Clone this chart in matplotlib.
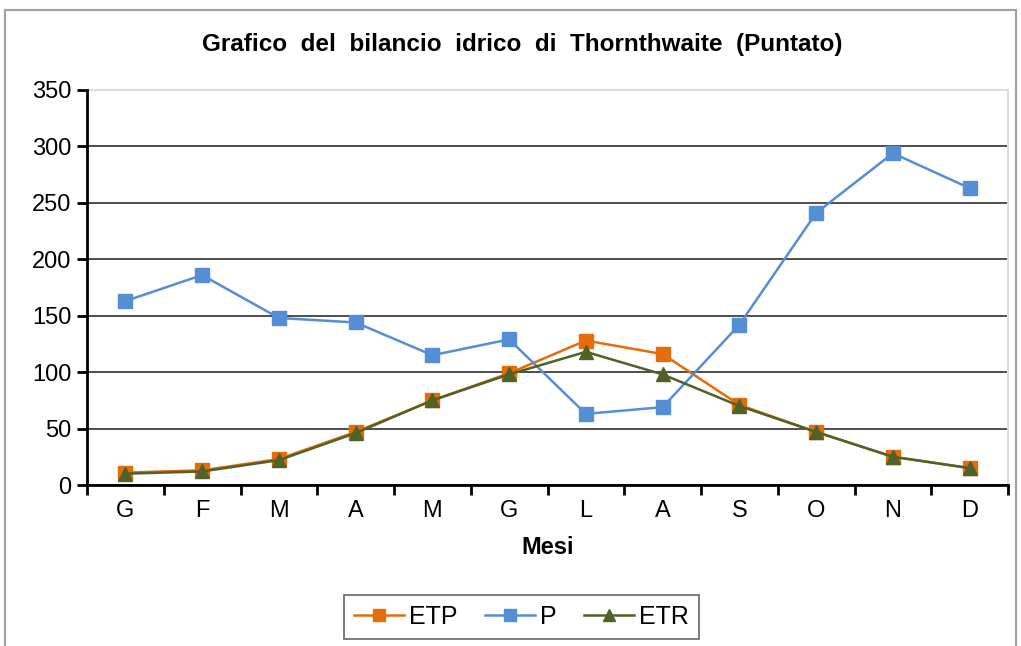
import numpy as np
import matplotlib.pyplot as plt
from matplotlib.patches import Rectangle

mesi = ['G', 'F', 'M', 'A', 'M', 'G', 'L', 'A', 'S', 'O', 'N', 'D']
etp = [11, 13, 23, 47, 75, 99, 128, 116, 71, 47, 25, 15]
p = [163, 186, 148, 144, 115, 129, 63, 69, 142, 241, 294, 263]
etr = [10, 12, 22, 46, 75, 98, 118, 98, 70, 47, 25, 15]

plt.rcParams['font.family'] = ['Liberation Sans', 'DejaVu Sans']

fig = plt.figure(figsize=(10.21, 6.46), dpi=100)
ax = fig.add_axes([87/1021, 161/646, 921/1021, 395/646])

# outer chart border
fig.patches.append(Rectangle((5/1021, -0.01), 1011/1021, 1 - 10/646 + 0.01, transform=fig.transFigure,
                             fill=False, edgecolor='#a0a0a0', linewidth=1.5))

x = np.arange(len(mesi))
ax.plot(x, etp, color='#E46C0A', marker='s', markersize=9.5, linewidth=1.8, label='ETP')
ax.plot(x, p, color='#558ED5', marker='s', markersize=9.5, linewidth=1.8, label='P')
ax.plot(x, etr, color='#4F6228', marker='^', markersize=10, linewidth=1.8, label='ETR')

ax.set_xlim(-0.5, len(mesi) - 0.5)
ax.set_ylim(0, 350)
ax.set_yticks(np.arange(0, 351, 50))
ax.set_xticks(x)
ax.set_xticklabels(mesi)
ax.set_xticks(np.arange(-0.5, len(mesi), 1), minor=True)
ax.tick_params(axis='x', which='major', length=0, labelsize=17, pad=11)
ax.tick_params(axis='x', which='minor', length=7, width=2, direction='out')
ax.tick_params(axis='y', length=7, width=2, labelsize=17, pad=4)

ax.grid(axis='y', color='#404040', linewidth=1.3)
ax.set_axisbelow(True)
# light plot-area border on top/right, like the Excel original
for s in ['top', 'right']:
    ax.spines[s].set_color('#dcdcdc')
    ax.spines[s].set_linewidth(1.5)
    ax.spines[s].set_zorder(3)
for s in ['left', 'bottom']:
    ax.spines[s].set_linewidth(2)
    ax.spines[s].set_zorder(4)

ax.set_xlabel('Mesi', fontsize=17, fontweight='bold', labelpad=10)
fig.text(522/1021, 1 - 45/646, 'Grafico  del  bilancio  idrico  di  Thornthwaite  (Puntato)',
         ha='center', va='center', fontsize=17.5, fontweight='bold')

leg = ax.legend(loc='center', bbox_to_anchor=(521/1021, 1 - 617/646), bbox_transform=fig.transFigure,
                ncol=3, fontsize=18, frameon=True, fancybox=False, edgecolor='#404040',
                handlelength=2.0, handletextpad=0.2, columnspacing=1.1, markerscale=0.9,
                borderpad=0.4, borderaxespad=0)
leg.get_frame().set_linewidth(1.2)

fig.savefig('out.png', dpi=100)
